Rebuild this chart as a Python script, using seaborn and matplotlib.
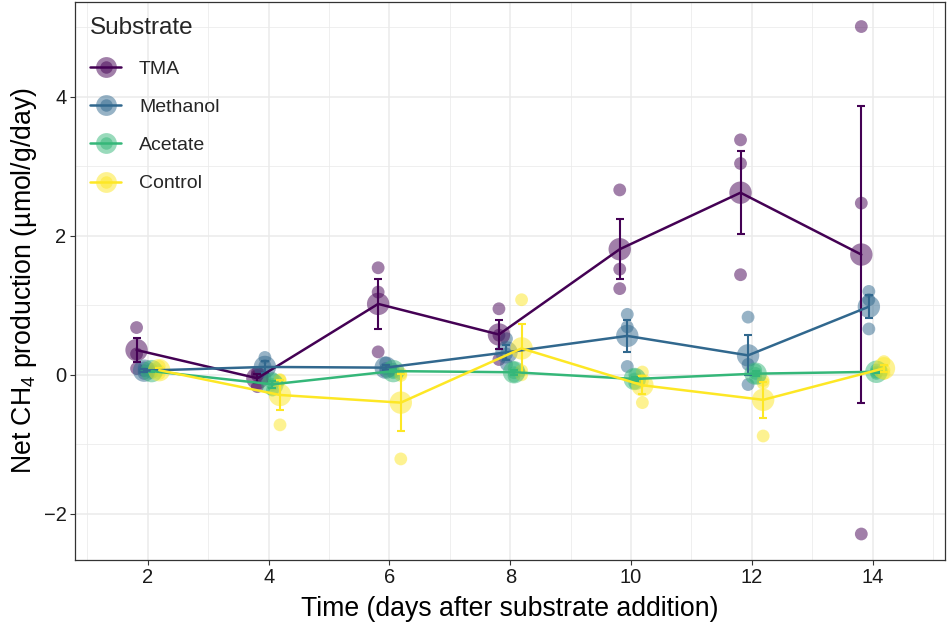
import numpy as np
import pandas as pd
import seaborn as sns
import matplotlib.pyplot as plt
from matplotlib.lines import Line2D
from matplotlib.ticker import MultipleLocator
from matplotlib.colors import to_rgba

days = [2, 4, 6, 8, 10, 12, 14]
substrates = ["TMA", "Methanol", "Acetate", "Control"]

tma = [[0.68, 0.30, 0.09], [0.03, -0.01, -0.17], [1.54, 1.19, 0.33], [0.95, 0.57, 0.22],
       [2.66, 1.52, 1.24], [3.38, 3.04, 1.44], [5.01, 2.47, -2.29]]
methanol = [[0.10, 0.06, 0.02], [0.25, 0.13, -0.04], [0.17, 0.09, 0.05], [0.52, 0.30, 0.15],
            [0.87, 0.69, 0.12], [0.83, 0.15, -0.14], [1.20, 1.08, 0.66]]
acetate = [[0.08, 0.05, 0.03], [-0.05, -0.14, -0.22], [0.08, 0.05, 0.03], [0.10, 0.03, -0.02],
           [0.00, -0.06, -0.12], [0.07, 0.02, -0.04], [0.07, 0.04, 0.02]]
control = [[0.12, 0.06, 0.02], [-0.08, -0.07, -0.72], [-0.01, 0.02, -1.21], [1.08, 0.06, 0.00],
           [0.04, -0.09, -0.40], [-0.08, -0.12, -0.88], [0.19, 0.07, 0.02]]

colors = ["#440154", "#31688E", "#35B779", "#FDE725"]
dodge = [-0.1875, -0.0625, 0.0625, 0.1875]

rows = []
for sub, reps, off in zip(substrates, [tma, methanol, acetate, control], dodge):
    for d, vals in zip(days, reps):
        for v in vals:
            rows.append({"substrate": sub, "day": d, "x": d + off, "rate": v})
df = pd.DataFrame(rows)
means = df.groupby(["substrate", "x"], sort=False)["rate"].mean().reset_index()

sns.set_theme(style="whitegrid")
plt.rcParams["font.family"] = ["Liberation Sans", "DejaVu Sans"]
plt.rcParams["mathtext.fontset"] = "custom"
plt.rcParams["mathtext.rm"] = "Liberation Sans"
plt.rcParams["mathtext.it"] = "Liberation Sans:italic"

palette = dict(zip(substrates, colors))

fig = plt.figure(figsize=(9.47, 6.23), dpi=100)
ax = fig.add_axes([0.079, 0.101, 0.919, 0.896])

# replicates
sns.scatterplot(ax=ax, data=df, x="x", y="rate", hue="substrate", palette=palette,
                s=85, alpha=0.5, linewidth=0, legend=False, zorder=2)
# means
sns.scatterplot(ax=ax, data=means, x="x", y="rate", hue="substrate", palette=palette,
                s=260, alpha=0.5, linewidth=0, legend=False, zorder=2)
# lines + standard error bars
sns.lineplot(ax=ax, data=df, x="x", y="rate", hue="substrate", palette=palette,
             errorbar="se", err_style="bars", linewidth=1.8, legend=False,
             err_kws=dict(capsize=2.6, elinewidth=1.5, capthick=1.5), zorder=3)

ax.set_xlim(0.79, 15.2)
ax.set_ylim(-2.665, 5.365)
ax.set_xticks(days)
ax.set_yticks([-2, 0, 2, 4])
ax.xaxis.set_minor_locator(MultipleLocator(1))
ax.yaxis.set_minor_locator(MultipleLocator(1))
ax.grid(which="major", color="#EBEBEB", linewidth=1.1)
ax.grid(which="minor", color="#EBEBEB", linewidth=0.55)
ax.set_axisbelow(True)
ax.tick_params(which="major", direction="out", length=3.5, width=0.8, color="#333333",
               labelsize=14.5, labelcolor="#1a1a1a", bottom=True, left=True, pad=2.5)
ax.tick_params(which="minor", length=0)
for sp in ax.spines.values():
    sp.set_color("#333333")
    sp.set_linewidth(0.9)

ax.set_xlabel("Time (days after substrate addition)", fontsize=19.2, color="black", labelpad=6)
ax.set_ylabel(r"Net CH$_4$ production (µmol/g/day)", fontsize=19.2, color="black", labelpad=3)

# legend: line with big and small translucent circles
handles = []
for c in colors:
    big = Line2D([], [], ls="none", marker="o", ms=15, mfc=to_rgba(c, 0.5), mec="none")
    small = Line2D([], [], ls="none", marker="o", ms=9, mfc=to_rgba(c, 0.5), mec="none")
    ln = Line2D([], [], color=c, lw=1.8)
    handles.append((big, small, ln))
leg = ax.legend(handles, substrates, title="Substrate", loc="upper left",
                bbox_to_anchor=(0.0, 1.0), frameon=False, fontsize=14,
                title_fontproperties={"size": 17.5}, labelspacing=1.06,
                handlelength=1.6, handletextpad=0.9, borderaxespad=0.4,
                alignment="left")

fig.savefig("out.png", dpi=100)
